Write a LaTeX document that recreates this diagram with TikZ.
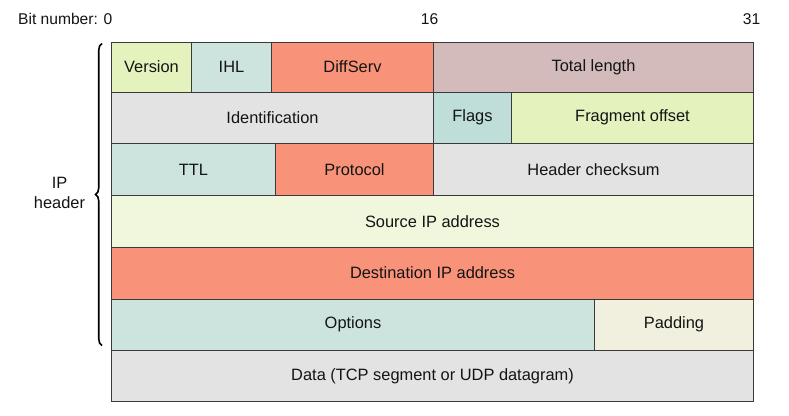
\documentclass[tikz,border=0pt]{standalone}
\usepackage{fontspec}
\setmainfont{Liberation Sans}
\usetikzlibrary{decorations.pathreplacing}
\definecolor{cgreen}{HTML}{E4F3BE}
\definecolor{cteal}{HTML}{CDE3DE}
\definecolor{cteal2}{HTML}{BFDDD9}
\definecolor{csalmon}{HTML}{F8937A}
\definecolor{cmauve}{HTML}{D3BBBC}
\definecolor{cgray}{HTML}{E3E3E3}
\definecolor{clight}{HTML}{F1F7DC}
\definecolor{cpad}{HTML}{F1EFDD}
\definecolor{cline}{HTML}{3A3A3A}
\begin{document}
\begin{tikzpicture}[x=1pt,y=-1pt,
  field/.style={draw=cline, line width=1pt, anchor=north west, inner sep=0pt,
    font=\fontsize{16.4}{19}\selectfont, text=black!92},
  lab/.style={font=\fontsize{15.6}{18}\selectfont, inner sep=0pt, text=black!92}]
\useasboundingbox (0,0) rectangle (789,415);
% row 1
\node[field, fill=cgreen, minimum width=80pt, minimum height=50pt] (ver) at (111,41.5) {Version};
\node[field, fill=cteal, minimum width=80pt, minimum height=50pt] (ihl) at (191,41.5) {IHL};
\node[field, fill=csalmon, minimum width=162pt, minimum height=50pt] (ds) at (271,41.5) {DiffServ};
\node[field, fill=cmauve, minimum width=320pt, minimum height=50pt] (tl) at (433,41.5) {Total length};
% row 2
\node[field, fill=cgray, minimum width=322pt, minimum height=51.5pt] (id) at (111,91.5) {Identification};
\node[field, fill=cteal2, minimum width=78pt, minimum height=51.5pt] (fl) at (433,91.5) {Flags};
\node[field, fill=cgreen, minimum width=242pt, minimum height=51.5pt] (fo) at (511,91.5) {Fragment offset};
% row 3
\node[field, fill=cteal, minimum width=164pt, minimum height=52pt] (ttl) at (111,143) {TTL};
\node[field, fill=csalmon, minimum width=158pt, minimum height=52pt] (pr) at (275,143) {Protocol};
\node[field, fill=cgray, minimum width=320pt, minimum height=52pt] (hc) at (433,143) {Header checksum};
% row 4
\node[field, fill=clight, minimum width=642pt, minimum height=51.5pt] (src) at (111,195) {Source IP address};
% row 5
\node[field, fill=csalmon, minimum width=642pt, minimum height=52pt] (dst) at (111,246.5) {Destination IP address};
% row 6
\node[field, fill=cteal, minimum width=483pt, minimum height=51.5pt] (opt) at (111,298.5) {Options};
\node[field, fill=cpad, minimum width=159pt, minimum height=51.5pt] (pad) at (594,298.5) {Padding};
% row 7
\node[field, fill=cgray, minimum width=642pt, minimum height=51pt] (data) at (111,350) {Data (TCP segment or UDP datagram)};
% bit numbers
\node[lab, anchor=west] (bn) at (18,19) {Bit number: 0};
\node[lab] (b16) at (429.5,19) {16};
\node[lab] (b31) at (751.5,19) {31};
% brace
\coordinate (btop) at (102,43.5);
\coordinate (bbot) at (102,345.5);
\draw[line width=1.6pt, decorate, decoration={brace, amplitude=6.5pt}] (bbot) -- (btop);
\node[lab, align=center, font=\fontsize{16.4}{19}\selectfont] (iph) at (59.5,193) {IP\\[1pt]header};
\end{tikzpicture}
\end{document}
